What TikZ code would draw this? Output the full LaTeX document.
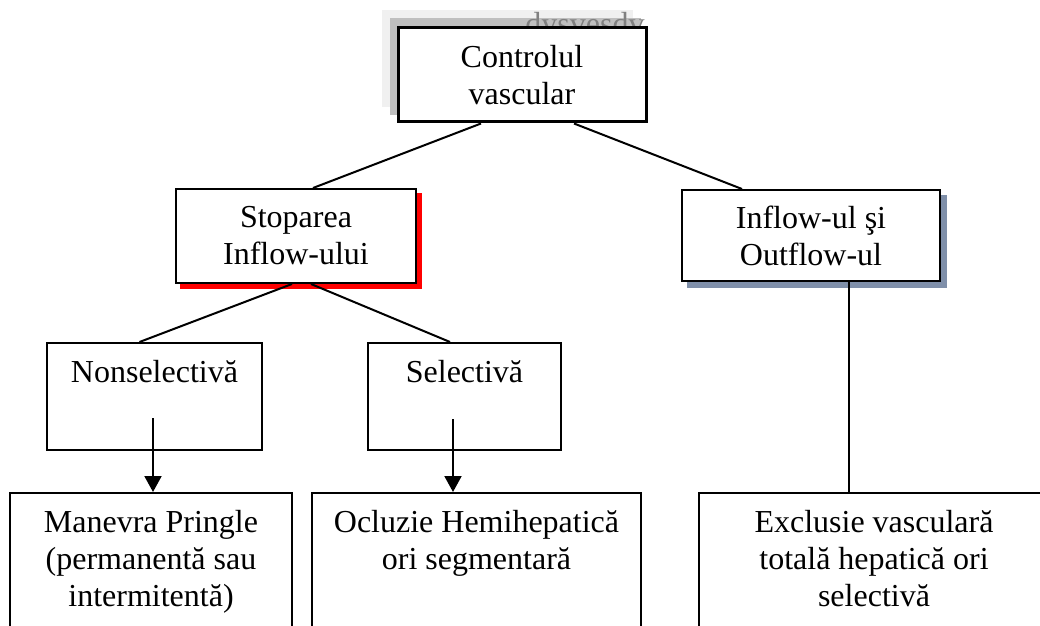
\documentclass[tikz,border=0pt]{standalone}
\usepackage{fontspec}
\setmainfont{Liberation Serif}
\usetikzlibrary{arrows.meta, positioning, backgrounds}
\definecolor{shadowblue}{RGB}{127,143,169}
\definecolor{lightshade}{gray}{0.94}
\definecolor{darkshade}{gray}{0.75}
\tikzstyle{box} = [rectangle, draw, fill=white, line width=1pt, align=center, inner sep=0pt, font=\fontsize{16}{18.5}\selectfont]
\tikzstyle{txt} = [align=center, inner sep=0pt, font=\fontsize{16}{18.5}\selectfont]
\tikzstyle{arrow} = [-{Triangle[width=8.5pt,length=8pt]}, line width=1pt]
\tikzstyle{link} = [line width=1pt]

\begin{document}
\begin{tikzpicture}[x=0.5pt,y=-0.5pt]
  \useasboundingbox (0,0) rectangle (1040,626);
  \clip (0,0) rectangle (1040,626);
  % top level
  \node (ctrl) at (522,75) [box, line width=1.5pt, minimum width=124pt, minimum height=47pt] {Controlul\\ vascular};
  % second level
  \node (stop) at (296,236) [box, minimum width=120pt, minimum height=47pt] {Stoparea\\ Inflow-ului};
  \node (inout) at (811,235.5) [box, minimum width=129pt, minimum height=45.5pt] {Inflow-ul şi\\ Outflow-ul};
  % third level
  \node (nons) at (154.5,396.5) [box, minimum width=107.5pt, minimum height=53.5pt] {};
  \node (sel) at (464.5,396.5) [box, minimum width=96.5pt, minimum height=53.5pt] {};
  \node (nonstxt) [txt, below=9pt of nons.north] {Nonselectivă};
  \node (seltxt) [txt, below=9pt of sel.north] {Selectivă};
  % bottom level
  \node (mane) at (151,596.5) [box, minimum width=141pt, minimum height=103.5pt] {};
  \node (oclu) at (476.5,596.5) [box, minimum width=164.5pt, minimum height=103.5pt] {};
  \node (excl) at (874,596.5) [box, minimum width=175pt, minimum height=103.5pt] {};
  \node (manetxt) [txt, below=9pt of mane.north] {Manevra Pringle\\ (permanentă sau\\ intermitentă)};
  \node (oclutxt) [txt, below=9pt of oclu.north] {Ocluzie Hemihepatică\\ ori segmentară};
  \node (excltxt) [txt, below=9pt of excl.north] {Exclusie vasculară\\ totală hepatică ori\\ selectivă};
  % shadows
  \begin{pgfonlayer}{background}
    \fill[lightshade] ([shift={(-15,-16)}]ctrl.south west) rectangle ([shift={(-15,-16)}]ctrl.north east);
    \fill[darkshade] ([shift={(-7,-8)}]ctrl.south west) rectangle ([shift={(-7,-8)}]ctrl.north east);
    \node (stamp) at (525,35) [anchor=base west, inner sep=0pt, text=gray, font=\fontsize{16}{18.5}\selectfont] {dysvesdv};
    \fill[red] ([shift={(5,5)}]stop.south west) rectangle ([shift={(5,5)}]stop.north east);
    \fill[shadowblue] ([shift={(6,6)}]inout.south west) rectangle ([shift={(6,6)}]inout.north east);
  \end{pgfonlayer}
  % connectors
  \draw[link] ([xshift=-20.5pt]ctrl.south) -- ([xshift=8.5pt]stop.north);
  \draw[link] ([xshift=26pt]ctrl.south) -- ([xshift=-34.5pt]inout.north);
  \draw[link] ([xshift=-2pt]stop.south) -- ([xshift=-7.5pt]nons.north);
  \draw[link] ([xshift=7.5pt]stop.south) -- ([xshift=-7.25pt]sel.north);
  \draw[arrow] ([xshift=-0.75pt,yshift=16.5pt]nons.south) -- ([xshift=1pt]mane.north);
  \draw[arrow] ([xshift=-5.75pt,yshift=16pt]sel.south) -- ([xshift=-11.75pt]oclu.north);
  \draw[link] ([xshift=19pt]inout.south) -- ([xshift=-12.5pt]excl.north);
\end{tikzpicture}
\end{document}
